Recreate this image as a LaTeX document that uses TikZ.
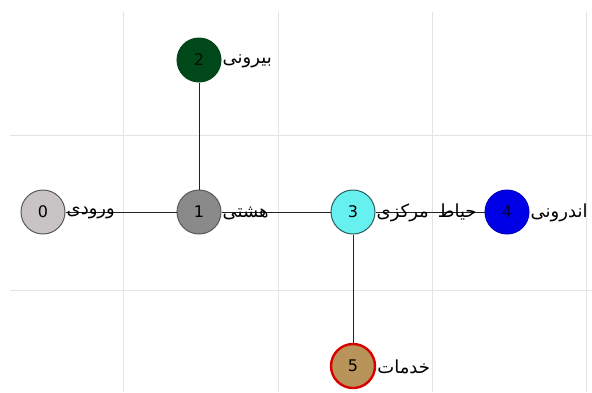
\documentclass[tikz,border=0pt]{standalone}
\usepackage{fontspec}
\setmainfont{DejaVu Sans}
\newfontfamily\arabicfont[Script=Arabic]{DejaVu Sans}
\TeXXeTstate=1
\definecolor{gridc}{HTML}{E4E4E4}
\definecolor{c0}{HTML}{C8C3C4}
\definecolor{c1}{HTML}{8A8A8A}
\definecolor{c2}{HTML}{00471A}
\definecolor{c3}{HTML}{66F0F0}
\definecolor{c4}{HTML}{0000E6}
\definecolor{c5}{HTML}{B8935A}
\definecolor{edgec}{HTML}{222222}
\begin{document}
\begin{tikzpicture}[x=1pt,y=-1pt,
  gridline/.style={draw=gridc, line width=0.9pt},
  vtx/.style={circle, minimum size=44pt, inner sep=0pt, line width=1pt, draw=black!65, font=\fontsize{16}{18}\selectfont},
  lbl/.style={anchor=west, inner sep=1pt, yshift=-1pt, font=\fontsize{18}{20}\selectfont\arabicfont},
  conn/.style={draw=edgec, line width=0.9pt}]
\useasboundingbox (0,0) rectangle (592,392);
\fill[white] (0,0) rectangle (592,392);
% grid
\foreach \gx in {123,278,432,586} {\draw[gridline] (\gx,12) -- (\gx,392);}
\foreach \gy in {135,290} {\draw[gridline] (10,\gy) -- (592,\gy);}
% nodes
\node[vtx, fill=c0] (n0) at (43,212) {0};
\node[vtx, fill=c1] (n1) at (199,212) {1};
\node[vtx, fill=c2, draw=c2, text=black!80!c2] (n2) at (199,60) {2};
\node[vtx, fill=c3, draw=black!60!c3] (n3) at (353,212) {3};
\node[vtx, fill=c4, draw=c4!85!black, text=black!70!c4] (n4) at (507,212) {4};
\node[vtx, fill=c5, draw=red!85!black, line width=2.4pt] (n5) at (353,366) {5};
% edges
\draw[conn] (n0) -- (n1);
\draw[conn] (n1) -- (n2);
\draw[conn] (n1) -- (n3);
\draw[conn] (n3) -- (n4);
\draw[conn] (n3) -- (n5);
% labels
\node[lbl] (l0) at (n0.east) {\beginR ورودی\endR};
\node[lbl] (l1) at (n1.east) {\beginR هشتی\endR};
\node[lbl] (l2) at (n2.east) {\beginR بیرونی\endR};
\node[lbl] (l3) at (n3.east) {\beginR حیاط\hspace{0.5em}مرکزی\endR};
\node[lbl] (l4) at (n4.east) {\beginR اندرونی\endR};
\node[lbl] (l5) at (n5.east) {\beginR خدمات\endR};
\end{tikzpicture}
\end{document}
